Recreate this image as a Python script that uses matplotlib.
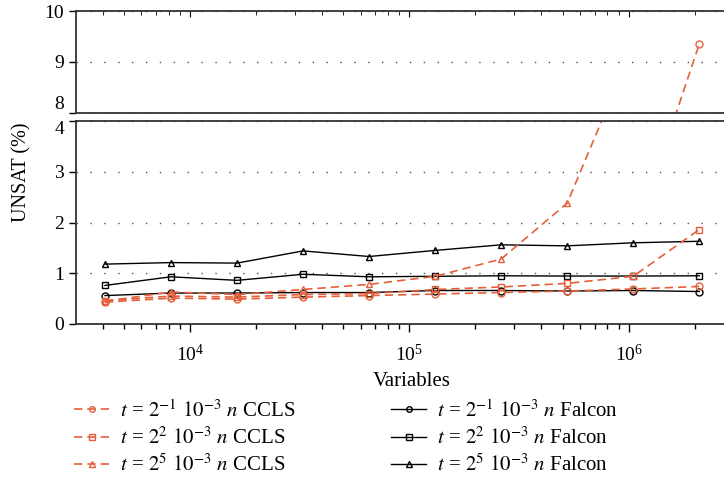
import matplotlib
matplotlib.use("Agg")
import matplotlib.pyplot as plt
import numpy as np

plt.rcParams['font.family'] = ['Liberation Serif', 'DejaVu Serif']
plt.rcParams['mathtext.fontset'] = 'stix'
plt.rcParams['font.size'] = 14

variables = [4096, 8192, 16384, 32768, 65536, 131072, 262144, 524288, 1048576, 2097152]

ccls_m1 = [0.43, 0.51, 0.49, 0.53, 0.56, 0.59, 0.62, 0.65, 0.69, 0.74]
ccls_p2 = [0.46, 0.55, 0.53, 0.58, 0.60, 0.68, 0.73, 0.80, 0.94, 1.86]
ccls_p5 = [0.45, 0.63, 0.58, 0.68, 0.78, 0.94, 1.28, 2.38, 5.48, 9.35]

falcon_m1 = [0.56, 0.61, 0.61, 0.62, 0.62, 0.66, 0.66, 0.65, 0.66, 0.64]
falcon_p2 = [0.76, 0.93, 0.86, 0.98, 0.93, 0.94, 0.95, 0.945, 0.945, 0.95]
falcon_p5 = [1.18, 1.21, 1.20, 1.44, 1.33, 1.45, 1.56, 1.54, 1.60, 1.63]

labels_ccls = [r'$t$ = $2^{-1}$ $10^{-3}$ $n$ CCLS',
               r'$t$ = $2^{2}$ $10^{-3}$ $n$ CCLS',
               r'$t$ = $2^{5}$ $10^{-3}$ $n$ CCLS']
labels_falcon = [r'$t$ = $2^{-1}$ $10^{-3}$ $n$ Falcon',
                 r'$t$ = $2^{2}$ $10^{-3}$ $n$ Falcon',
                 r'$t$ = $2^{5}$ $10^{-3}$ $n$ Falcon']

orange = '#E5603A'
W, H = 724, 482
fig = plt.figure(figsize=(W/100, H/100), dpi=100)
L = 76 / W
ax_top = fig.add_axes([L, 1 - 113/H, 1 - L, (113 - 11)/H])
ax_bot = fig.add_axes([L, 1 - 324/H, 1 - L, (324 - 121)/H])

markers = ['o', 's', '^']
handles_c, handles_f = [], []
for ax in (ax_top, ax_bot):
    for ys, m, lab in zip([falcon_m1, falcon_p2, falcon_p5], markers, labels_falcon):
        h, = ax.plot(variables, ys, color='black', lw=1.0, marker=m, ms=5,
                     mfc='none', mec='black', mew=1.0, label=lab)
        if ax is ax_bot:
            handles_f.append(h)
    for ys, m, lab in zip([ccls_m1, ccls_p2, ccls_p5], markers, labels_ccls):
        mm = 'o' if (ax is ax_top and m == '^') else m
        h, = ax.plot(variables, ys, color=orange, lw=1.2, ls=(0, (5, 3)), marker=mm, ms=5,
                     mfc='none', mec=orange, mew=1.0, label=lab)
        if ax is ax_bot:
            handles_c.append(h)

xmin, xmax = 3022, 2.72e6
for ax in (ax_top, ax_bot):
    ax.set_xscale('log')
    ax.set_xlim(xmin, xmax)
    ax.spines['right'].set_visible(False)
    for s in ('left', 'top', 'bottom'):
        ax.spines[s].set_linewidth(1.3)
        ax.spines[s].set_color('#333333')
    ax.grid(axis='y', linestyle=(0, (1, 9)), color='#555555', lw=1.0)
    ax.tick_params(axis='y', direction='out', length=5, width=1, left=True, labelsize=14)

ax_top.set_ylim(8, 10)
ax_top.set_yticks([8, 9, 10])
ax_top.tick_params(axis='x', which='both', bottom=False, labelbottom=False,
                   top=True, direction='in', length=3)
ax_top.tick_params(axis='x', which='major', length=4)

ax_bot.set_ylim(0, 4)
ax_bot.set_yticks([0, 1, 2, 3, 4])
ax_bot.tick_params(axis='x', which='major', direction='out', length=6, width=1, top=False,
                   pad=8, labelsize=14)
ax_bot.tick_params(axis='x', which='minor', direction='out', length=3.5, width=1, top=False)

fig.canvas.draw()
# Shift boundary labels apart, as in the reference
ax_top.get_yticklabels()[0].set_verticalalignment('bottom')
ax_bot.get_yticklabels()[-1].set_verticalalignment('top')

fig.text(412/W, 1 - 381/H, 'Variables', ha='center', va='center', fontsize=15)
fig.text(22/W, 1 - 172/H, 'UNSAT (%)', ha='center', va='center', rotation=90, fontsize=14.5)

leg = fig.legend(handles_c + handles_f, labels_ccls + labels_falcon, ncol=2,
                 loc='upper left', bbox_to_anchor=(74/W, 1 - 400/H), frameon=False,
                 borderaxespad=0, borderpad=0, handlelength=1.7, handletextpad=0.5,
                 columnspacing=4.6, labelspacing=0.28, fontsize=15, markerscale=0.8)

fig.savefig('out.png', dpi=100)
